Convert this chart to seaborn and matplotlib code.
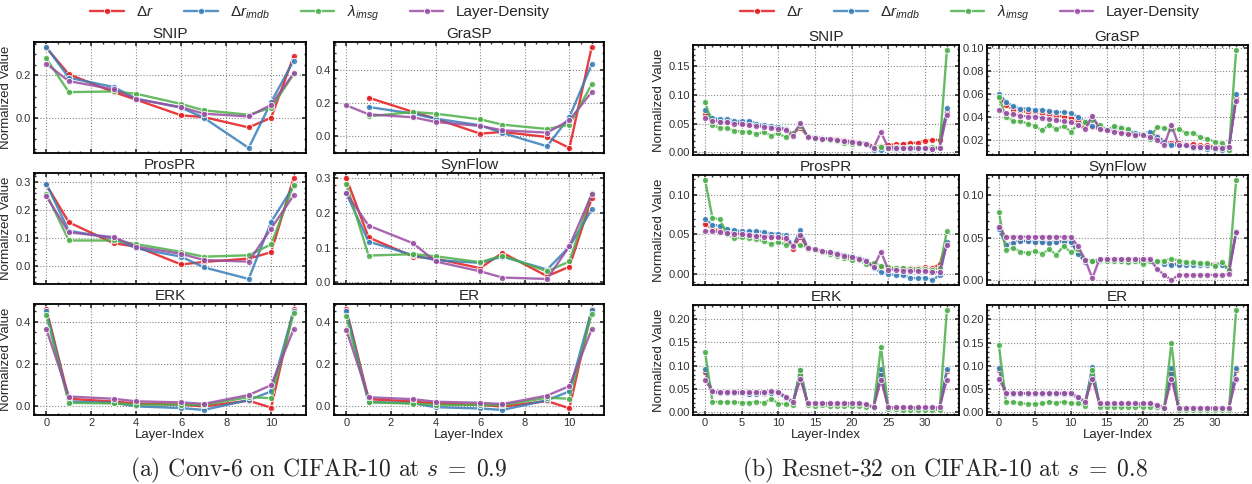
import numpy as np
import pandas as pd
import matplotlib
matplotlib.use("Agg")
import matplotlib.pyplot as plt
import seaborn as sns
from matplotlib.ticker import AutoMinorLocator, MultipleLocator, MaxNLocator

# series and subplot names
series_names = [r"$\Delta r$", r"$\Delta r_{imdb}$", r"$\lambda_{imsg}$", "Layer-Density"]
colors = ["#e41a1c", "#377eb8", "#4daf4a", "#984ea3"]
methods = ["SNIP", "GraSP", "ProsPR", "SynFlow", "ERK", "ER"]

# ---- (a) Conv-6, s = 0.9 ----
c6_layers = [0, 1, 3, 4, 6, 7, 9, 10, 11]

c6_snip_dr = [0.331, 0.205, 0.121, 0.085, 0.011, 0.003, -0.046, 0.0, 0.29]
c6_snip_imdb = [0.334, 0.189, 0.145, 0.09, 0.047, 0.0, -0.143, 0.074, 0.27]
c6_snip_lam = [0.28, 0.121, 0.124, 0.113, 0.065, 0.035, 0.014, 0.047, 0.205]
c6_snip_density = [0.255, 0.173, 0.134, 0.088, 0.05, 0.019, 0.006, 0.061, 0.21]

c6_grasp_dr = [np.nan, 0.232, 0.146, 0.106, 0.016, 0.026, -0.004, -0.07, 0.536]
c6_grasp_imdb = [np.nan, 0.176, 0.136, 0.106, 0.066, 0.02, -0.06, 0.116, 0.432]
c6_grasp_lam = [np.nan, 0.12, 0.146, 0.136, 0.102, 0.07, 0.044, 0.07, 0.312]
c6_grasp_density = [0.186, 0.132, 0.114, 0.086, 0.062, 0.036, 0.022, 0.096, 0.266]

c6_prospr_dr = [0.29, 0.155, 0.08, 0.068, 0.004, 0.013, 0.025, 0.048, 0.314]
c6_prospr_imdb = [0.292, 0.125, 0.097, 0.062, 0.032, -0.006, -0.048, 0.157, 0.285]
c6_prospr_lam = [0.258, 0.09, 0.09, 0.077, 0.049, 0.032, 0.037, 0.076, 0.29]
c6_prospr_density = [0.248, 0.119, 0.102, 0.068, 0.042, 0.02, 0.014, 0.133, 0.252]

c6_synflow_dr = [0.299, 0.129, 0.074, 0.068, 0.041, 0.085, 0.018, 0.045, 0.241]
c6_synflow_imdb = [0.255, 0.117, 0.078, 0.064, 0.056, 0.074, 0.037, 0.102, 0.209]
c6_synflow_lam = [0.282, 0.077, 0.081, 0.075, 0.058, 0.077, 0.032, 0.06, 0.257]
c6_synflow_density = [0.255, 0.163, 0.112, 0.06, 0.032, 0.014, 0.01, 0.104, 0.252]

c6_erk_dr = [0.46, 0.033, 0.02, 0.01, 0.005, -0.003, 0.024, -0.009, 0.46]
c6_erk_imdb = [0.449, 0.02, 0.014, -0.003, -0.011, -0.02, 0.027, 0.068, 0.452]
c6_erk_lam = [0.43, 0.014, 0.011, 0.005, 0.005, 0.003, 0.041, 0.036, 0.44]
c6_erk_density = [0.364, 0.044, 0.033, 0.021, 0.016, 0.009, 0.051, 0.098, 0.364]

c6_er_dr = [0.46, 0.033, 0.022, 0.012, 0.006, -0.002, 0.024, -0.01, 0.46]
c6_er_imdb = [0.452, 0.02, 0.014, -0.005, -0.011, -0.018, 0.028, 0.07, 0.455]
c6_er_lam = [0.425, 0.018, 0.012, 0.006, 0.006, 0.004, 0.04, 0.035, 0.437]
c6_er_density = [0.362, 0.042, 0.033, 0.021, 0.016, 0.01, 0.05, 0.095, 0.364]

# ---- (b) Resnet-32, s = 0.8 ----
r32_layers = list(range(34))

r32_snip_dr = [0.067, 0.058, 0.055, 0.053, 0.052, 0.051, 0.049, 0.047, 0.046, 0.044,
               0.043, 0.041, 0.032, 0.043, 0.028, 0.026, 0.025, 0.024, 0.023, 0.021,
               0.019, 0.018, 0.017, 0.010, 0.011, 0.013, 0.014, 0.015, 0.016, 0.017,
               0.020, 0.021, 0.022, 0.070]
r32_snip_imdb = [0.074, 0.060, 0.058, 0.058, 0.055, 0.054, 0.055, 0.050, 0.047, 0.046,
                 0.044, 0.041, 0.031, 0.047, 0.028, 0.026, 0.025, 0.023, 0.022, 0.020,
                 0.018, 0.017, 0.016, 0.004, 0.004, 0.005, 0.005, 0.006, 0.005, 0.006,
                 0.006, 0.006, 0.007, 0.077]
r32_snip_lam = [0.088, 0.047, 0.043, 0.042, 0.037, 0.036, 0.036, 0.032, 0.035, 0.029,
                0.033, 0.026, 0.033, 0.045, 0.028, 0.025, 0.023, 0.022, 0.020, 0.017,
                0.015, 0.016, 0.014, 0.010, 0.010, 0.008, 0.009, 0.008, 0.009, 0.008,
                0.008, 0.009, 0.009, 0.178]
r32_snip_density = [0.060, 0.055, 0.053, 0.052, 0.050, 0.049, 0.048, 0.046, 0.044, 0.043,
                    0.041, 0.039, 0.029, 0.051, 0.027, 0.025, 0.024, 0.023, 0.021, 0.019,
                    0.018, 0.016, 0.015, 0.008, 0.035, 0.008, 0.008, 0.007, 0.007, 0.007,
                    0.007, 0.006, 0.008, 0.065]

r32_grasp_dr = [0.058, 0.050, 0.046, 0.045, 0.044, 0.044, 0.043, 0.042, 0.041, 0.040,
                0.039, 0.036, 0.032, 0.031, 0.029, 0.028, 0.028, 0.027, 0.026, 0.025,
                0.024, 0.025, 0.023, 0.019, 0.017, 0.017, 0.016, 0.016, 0.015, 0.015,
                0.014, 0.014, 0.013, 0.056]
r32_grasp_imdb = [0.060, 0.053, 0.049, 0.047, 0.047, 0.046, 0.046, 0.045, 0.044, 0.044,
                  0.043, 0.040, 0.036, 0.032, 0.030, 0.029, 0.030, 0.031, 0.028, 0.026,
                  0.025, 0.027, 0.022, 0.018, 0.015, 0.015, 0.015, 0.013, 0.013, 0.012,
                  0.012, 0.011, 0.011, 0.060]
r32_grasp_lam = [0.057, 0.040, 0.036, 0.036, 0.034, 0.032, 0.028, 0.033, 0.029, 0.032,
                 0.027, 0.033, 0.035, 0.037, 0.033, 0.028, 0.032, 0.030, 0.029, 0.023,
                 0.025, 0.021, 0.031, 0.030, 0.029, 0.029, 0.026, 0.026, 0.022, 0.021,
                 0.018, 0.017, 0.011, 0.098]
r32_grasp_density = [0.046, 0.043, 0.042, 0.041, 0.040, 0.040, 0.039, 0.038, 0.037, 0.036,
                     0.035, 0.033, 0.029, 0.041, 0.029, 0.028, 0.027, 0.026, 0.025, 0.024,
                     0.024, 0.022, 0.020, 0.015, 0.033, 0.015, 0.015, 0.014, 0.014, 0.014,
                     0.013, 0.013, 0.014, 0.054]

r32_prospr_dr = [0.063, 0.057, 0.055, 0.053, 0.052, 0.050, 0.050, 0.049, 0.048, 0.047,
                 0.046, 0.043, 0.032, 0.047, 0.032, 0.030, 0.028, 0.026, 0.024, 0.022,
                 0.021, 0.019, 0.016, 0.010, 0.008, 0.007, 0.007, 0.007, 0.007, 0.007,
                 0.008, 0.007, 0.012, 0.038]
r32_prospr_imdb = [0.070, 0.062, 0.061, 0.057, 0.055, 0.054, 0.054, 0.054, 0.053, 0.051,
                   0.051, 0.049, 0.036, 0.055, 0.033, 0.031, 0.029, 0.027, 0.026, 0.024,
                   0.022, 0.020, 0.018, 0.007, 0.002, 0.000, -0.002, -0.002, -0.005, -0.006,
                   -0.005, -0.008, -0.002, 0.040]
r32_prospr_lam = [0.119, 0.071, 0.069, 0.050, 0.045, 0.046, 0.045, 0.044, 0.041, 0.038,
                  0.040, 0.037, 0.037, 0.036, 0.034, 0.030, 0.027, 0.025, 0.023, 0.020,
                  0.017, 0.017, 0.012, 0.014, 0.010, 0.008, 0.007, 0.007, 0.006, 0.006,
                  0.006, 0.005, 0.007, 0.054]
r32_prospr_density = [0.054, 0.054, 0.053, 0.052, 0.051, 0.050, 0.049, 0.048, 0.047, 0.047,
                      0.046, 0.045, 0.035, 0.049, 0.033, 0.031, 0.029, 0.027, 0.025, 0.023,
                      0.021, 0.019, 0.016, 0.008, 0.028, 0.005, 0.005, 0.004, 0.004, 0.003,
                      0.003, 0.002, 0.002, 0.037]

r32_synflow_dr = [0.062, 0.042, 0.045, 0.046, 0.046, 0.045, 0.045, 0.045, 0.045, 0.046,
                  0.046, 0.032, 0.022, 0.022, 0.022, 0.022, 0.022, 0.023, 0.022, 0.022,
                  0.022, 0.022, 0.021, 0.020, 0.019, 0.019, 0.019, 0.019, 0.019, 0.019,
                  0.019, 0.019, 0.012, 0.057]
r32_synflow_imdb = [0.060, 0.041, 0.044, 0.046, 0.046, 0.045, 0.045, 0.044, 0.045, 0.045,
                    0.045, 0.031, 0.021, 0.022, 0.022, 0.022, 0.022, 0.023, 0.022, 0.022,
                    0.022, 0.022, 0.021, 0.019, 0.018, 0.018, 0.018, 0.018, 0.018, 0.018,
                    0.018, 0.018, 0.012, 0.055]
r32_synflow_lam = [0.080, 0.035, 0.038, 0.033, 0.032, 0.034, 0.031, 0.036, 0.030, 0.040,
                   0.033, 0.036, 0.024, 0.023, 0.024, 0.023, 0.022, 0.023, 0.021, 0.023,
                   0.019, 0.022, 0.022, 0.023, 0.025, 0.023, 0.021, 0.021, 0.020, 0.020,
                   0.017, 0.021, 0.012, 0.118]
r32_synflow_density = [0.062, 0.051, 0.051, 0.051, 0.051, 0.051, 0.051, 0.051, 0.051, 0.051,
                       0.051, 0.040, 0.024, 0.002, 0.025, 0.025, 0.025, 0.025, 0.025, 0.025,
                       0.025, 0.025, 0.013, 0.006, 0.000, 0.006, 0.006, 0.006, 0.006, 0.006,
                       0.006, 0.006, 0.007, 0.057]

r32_erk_dr = [0.087, 0.042, 0.040, 0.040, 0.040, 0.040, 0.039, 0.040, 0.039, 0.041,
              0.040, 0.031, 0.021, 0.080, 0.018, 0.018, 0.018, 0.018, 0.018, 0.018,
              0.018, 0.017, 0.015, 0.011, 0.082, 0.008, 0.008, 0.008, 0.008, 0.008,
              0.008, 0.008, 0.008, 0.088]
r32_erk_imdb = [0.092, 0.042, 0.040, 0.040, 0.040, 0.040, 0.039, 0.039, 0.040, 0.040,
                0.040, 0.030, 0.020, 0.091, 0.018, 0.018, 0.018, 0.018, 0.018, 0.018,
                0.018, 0.017, 0.014, 0.011, 0.092, 0.007, 0.007, 0.007, 0.007, 0.007,
                0.007, 0.007, 0.007, 0.092]
r32_erk_lam = [0.129, 0.022, 0.021, 0.021, 0.021, 0.020, 0.020, 0.022, 0.019, 0.028,
               0.018, 0.017, 0.014, 0.090, 0.014, 0.013, 0.014, 0.013, 0.013, 0.013,
               0.012, 0.013, 0.011, 0.010, 0.141, 0.006, 0.006, 0.005, 0.005, 0.005,
               0.005, 0.005, 0.004, 0.220]
r32_erk_density = [0.069, 0.044, 0.043, 0.043, 0.043, 0.043, 0.042, 0.043, 0.043, 0.044,
                   0.043, 0.033, 0.022, 0.070, 0.019, 0.019, 0.019, 0.019, 0.019, 0.019,
                   0.019, 0.019, 0.016, 0.010, 0.069, 0.010, 0.010, 0.010, 0.010, 0.010,
                   0.010, 0.010, 0.010, 0.069]

r32_er_dr = [0.090, 0.040, 0.040, 0.040, 0.040, 0.039, 0.039, 0.040, 0.039, 0.040,
             0.040, 0.031, 0.021, 0.085, 0.018, 0.017, 0.017, 0.017, 0.017, 0.017,
             0.017, 0.017, 0.014, 0.011, 0.085, 0.008, 0.008, 0.008, 0.008, 0.008,
             0.008, 0.008, 0.008, 0.090]
r32_er_imdb = [0.096, 0.040, 0.040, 0.040, 0.040, 0.039, 0.039, 0.040, 0.039, 0.040,
               0.040, 0.030, 0.020, 0.097, 0.017, 0.017, 0.017, 0.017, 0.017, 0.017,
               0.017, 0.017, 0.014, 0.010, 0.096, 0.007, 0.007, 0.007, 0.007, 0.007,
               0.007, 0.007, 0.007, 0.096]
r32_er_lam = [0.145, 0.022, 0.022, 0.020, 0.018, 0.018, 0.019, 0.023, 0.020, 0.023,
              0.020, 0.019, 0.014, 0.090, 0.012, 0.012, 0.012, 0.012, 0.012, 0.012,
              0.012, 0.012, 0.011, 0.009, 0.150, 0.006, 0.006, 0.006, 0.006, 0.006,
              0.006, 0.006, 0.005, 0.220]
r32_er_density = [0.072, 0.042, 0.042, 0.042, 0.041, 0.041, 0.041, 0.042, 0.041, 0.042,
                  0.042, 0.033, 0.023, 0.072, 0.019, 0.019, 0.019, 0.019, 0.019, 0.019,
                  0.019, 0.019, 0.016, 0.010, 0.072, 0.010, 0.010, 0.010, 0.010, 0.010,
                  0.010, 0.010, 0.010, 0.072]

c6_table = {
    "SNIP": (c6_snip_dr, c6_snip_imdb, c6_snip_lam, c6_snip_density),
    "GraSP": (c6_grasp_dr, c6_grasp_imdb, c6_grasp_lam, c6_grasp_density),
    "ProsPR": (c6_prospr_dr, c6_prospr_imdb, c6_prospr_lam, c6_prospr_density),
    "SynFlow": (c6_synflow_dr, c6_synflow_imdb, c6_synflow_lam, c6_synflow_density),
    "ERK": (c6_erk_dr, c6_erk_imdb, c6_erk_lam, c6_erk_density),
    "ER": (c6_er_dr, c6_er_imdb, c6_er_lam, c6_er_density),
}
r32_table = {
    "SNIP": (r32_snip_dr, r32_snip_imdb, r32_snip_lam, r32_snip_density),
    "GraSP": (r32_grasp_dr, r32_grasp_imdb, r32_grasp_lam, r32_grasp_density),
    "ProsPR": (r32_prospr_dr, r32_prospr_imdb, r32_prospr_lam, r32_prospr_density),
    "SynFlow": (r32_synflow_dr, r32_synflow_imdb, r32_synflow_lam, r32_synflow_density),
    "ERK": (r32_erk_dr, r32_erk_imdb, r32_erk_lam, r32_erk_density),
    "ER": (r32_er_dr, r32_er_imdb, r32_er_lam, r32_er_density),
}


def to_frame(layers, table):
    rows = []
    for method, values in table.items():
        for name, ys in zip(series_names, values):
            for x, y in zip(layers, ys):
                rows.append((method, name, x, y))
    return pd.DataFrame(rows, columns=["method", "series", "layer", "value"])


sns.set_theme(style="ticks")
plt.rcParams.update({
    "font.family": ["Liberation Sans", "DejaVu Sans"],
    "mathtext.fontset": "custom",
    "mathtext.rm": "Liberation Sans",
    "mathtext.it": "Liberation Sans:italic",
    "xtick.direction": "in", "ytick.direction": "in",
    "xtick.top": True, "ytick.right": True,
    "xtick.minor.visible": True, "ytick.minor.visible": True,
    "xtick.major.size": 3, "ytick.major.size": 3,
    "xtick.minor.size": 1.5, "ytick.minor.size": 1.5,
    "xtick.labelsize": 8, "ytick.labelsize": 8,
    "xtick.color": "#333333", "ytick.color": "#333333",
    "axes.linewidth": 1.3, "axes.edgecolor": "black",
    "grid.linestyle": ":", "grid.color": "#888888", "grid.linewidth": 0.8,
})

W, H = 1252, 484
fig = plt.figure(figsize=(W / 100, H / 100), dpi=100)


def box(x0, x1, top, h):
    return [x0 / W, 1 - (top + h) / H, (x1 - x0) / W, h / H]


groups = [
    dict(df=to_frame(c6_layers, c6_table), cols=[(34, 306), (334, 604)],
         tops=[42, 173, 304], h=111, major=2, legend_x=320, ybins=None,
         caption=r"(a) Conv-6 on CIFAR-10 at $s\;=\;0.9$", cap_x=319),
    dict(df=to_frame(r32_layers, r32_table), cols=[(693, 959), (987, 1248)],
         tops=[45, 175, 305], h=110, major=5, legend_x=970, ybins=6,
         caption=r"(b) Resnet-32 on CIFAR-10 at $s\;=\;0.8$", cap_x=945),
]

for g in groups:
    df = g["df"]
    first = None
    handles, labels = None, None
    for i, method in enumerate(methods):
        r, c = divmod(i, 2)
        x0, x1 = g["cols"][c]
        ax = fig.add_axes(box(x0, x1, g["tops"][r], g["h"]), sharex=first)
        if first is None:
            first = ax
        sub = df[df["method"] == method]
        sns.lineplot(data=sub, x="layer", y="value", hue="series",
                     hue_order=series_names, palette=colors, marker="o",
                     markersize=4.5, linewidth=1.7, alpha=0.85,
                     markeredgecolor="white", markeredgewidth=0.7,
                     ax=ax, legend=(i == 0))
        if i == 0:
            leg = ax.get_legend()
            handles = leg.legend_handles
            labels = [t.get_text() for t in leg.get_texts()]
            leg.remove()
        ax.set_title(method, fontsize=11, pad=3)
        ax.grid(True, which="major")
        ax.xaxis.set_major_locator(MultipleLocator(g["major"]))
        ax.xaxis.set_minor_locator(AutoMinorLocator())
        if g["ybins"]:
            ax.yaxis.set_major_locator(MaxNLocator(nbins=g["ybins"], steps=[1, 2, 5, 10]))
        ax.yaxis.set_minor_locator(AutoMinorLocator())
        ax.tick_params(which="both", top=True, right=True)
        ax.tick_params(axis="both", pad=2)
        if c == 0:
            ax.set_ylabel("Normalized Value", fontsize=9.5, labelpad=3)
        else:
            ax.set_ylabel("")
        if r == 2:
            ax.set_xlabel("Layer-Index", fontsize=9.5, labelpad=1)
        else:
            ax.set_xlabel("")
            ax.tick_params(labelbottom=False)

    fig.legend(handles, labels, loc="center",
               bbox_to_anchor=(g["legend_x"] / W, 1 - 13 / H), ncol=4,
               frameon=False, fontsize=11, handlelength=2.2,
               handletextpad=0.8, columnspacing=2.0)
    fig.text(g["cap_x"] / W, 1 - 470 / H, g["caption"], ha="center", va="center",
             fontsize=17, family="cmr10", math_fontfamily="cm")

fig.savefig("out.png", dpi=100)
